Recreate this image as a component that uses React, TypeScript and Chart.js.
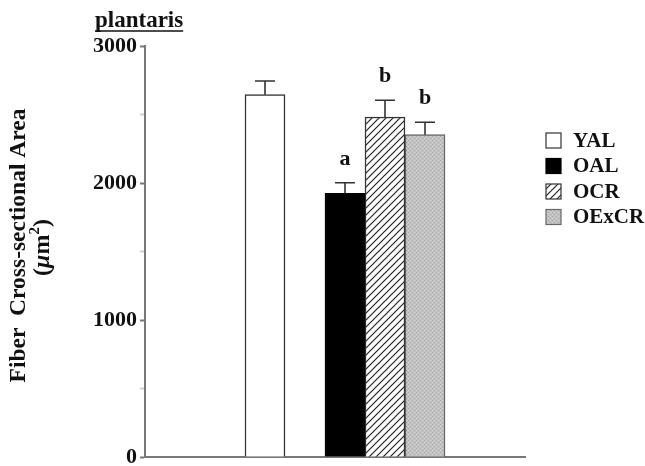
import { useEffect, useRef } from 'react';
import { Chart, registerables } from 'chart.js';
Chart.register(...registerables);

const categories = ['YAL', 'OAL', 'OCR', 'OExCR'];
const positions = [3, 5, 6, 7];
const means = [2645, 1925, 2482, 2353];
const errors = [100, 77, 122, 90];
const letters = ['', 'a', 'b', 'b'];
const yMax = 3000;
const xMax = 9.5;

const SERIF = '"Liberation Serif", "Times New Roman", serif';

function hatch(): CanvasPattern {
  const s = 7;
  const c = document.createElement('canvas');
  c.width = s; c.height = s;
  const g = c.getContext('2d')!;
  g.fillStyle = '#fff';
  g.fillRect(0, 0, s, s);
  g.strokeStyle = '#222';
  g.lineWidth = 1.2;
  g.beginPath();
  g.moveTo(0, s); g.lineTo(s, 0);
  g.moveTo(-1, 1); g.lineTo(1, -1);
  g.moveTo(s - 1, s + 1); g.lineTo(s + 1, s - 1);
  g.stroke();
  return g.createPattern(c, 'repeat')!;
}

function stipple(): CanvasPattern {
  const c = document.createElement('canvas');
  c.width = 4; c.height = 4;
  const g = c.getContext('2d')!;
  g.fillStyle = '#c2c2c2';
  g.fillRect(0, 0, 4, 4);
  g.fillStyle = '#a4a4a4';
  g.fillRect(0, 0, 1, 1);
  g.fillRect(2, 2, 1, 1);
  g.fillStyle = '#d4d4d4';
  g.fillRect(2, 0, 1, 1);
  g.fillRect(0, 2, 1, 1);
  return g.createPattern(c, 'repeat')!;
}

const decorPlugin = {
  id: 'decor',
  afterDatasetsDraw(chart: any) {
    const ctx = chart.ctx;
    const y = chart.scales.y;
    ctx.save();
    chart.data.datasets.forEach((_ds: any, i: number) => {
      const el = chart.getDatasetMeta(i).data[0];
      if (!el) return;
      const x = el.x;
      const yTop = y.getPixelForValue(means[i]);
      const yErr = y.getPixelForValue(means[i] + errors[i]);
      ctx.strokeStyle = '#333';
      ctx.lineWidth = 1.6;
      ctx.beginPath();
      ctx.moveTo(x, yTop);
      ctx.lineTo(x, yErr);
      ctx.moveTo(x - 10, yErr);
      ctx.lineTo(x + 10, yErr);
      ctx.stroke();
      if (letters[i]) {
        ctx.fillStyle = '#111';
        ctx.font = `bold 22px ${SERIF}`;
        ctx.textAlign = 'center';
        ctx.textBaseline = 'alphabetic';
        ctx.fillText(letters[i], x, yErr - 18);
      }
    });
    ctx.restore();
  },
  afterDraw(chart: any) {
    const ctx = chart.ctx;
    const area = chart.chartArea;
    ctx.save();
    // title
    ctx.fillStyle = '#111';
    ctx.font = `bold 23px ${SERIF}`;
    ctx.textAlign = 'left';
    ctx.textBaseline = 'alphabetic';
    const title = 'plantaris';
    const tw = ctx.measureText(title).width;
    const tx = area.left - 50;
    ctx.fillText(title, tx, 27);
    ctx.strokeStyle = '#111';
    ctx.lineWidth = 1.5;
    ctx.beginPath();
    ctx.moveTo(tx, 31);
    ctx.lineTo(tx + tw, 31);
    ctx.stroke();

    // y axis title
    const cy = (area.top + area.bottom) / 2;
    ctx.save();
    ctx.translate(19, cy - 6);
    ctx.rotate(-Math.PI / 2);
    ctx.textAlign = 'center';
    ctx.textBaseline = 'middle';
    ctx.font = `bold 23.5px ${SERIF}`;
    ctx.fillText('Fiber  Cross-sectional Area', 0, 0);
    ctx.restore();

    ctx.save();
    ctx.translate(43, cy - 4);
    ctx.rotate(-Math.PI / 2);
    ctx.textBaseline = 'middle';
    const parts: [string, string, number][] = [
      ['(', `bold 24px ${SERIF}`, 0],
      ['\u03BC', `italic bold 24px ${SERIF}`, 0],
      ['m', `bold 24px ${SERIF}`, 0],
      ['2', `bold 15px ${SERIF}`, -8],
      [')', `bold 24px ${SERIF}`, 0],
    ];
    let total = 0;
    parts.forEach(([t, f]) => { ctx.font = f; total += ctx.measureText(t).width; });
    let px = -total / 2;
    ctx.textAlign = 'left';
    parts.forEach(([t, f, dy]) => {
      ctx.font = f;
      ctx.fillText(t, px, dy);
      px += ctx.measureText(t).width;
    });
    ctx.restore();

    // legend
    const lx = area.right + 21;
    const ly0 = area.top + 87;
    const step = 25.5;
    const bs = 15;
    chart.data.datasets.forEach((ds: any, i: number) => {
      const yy = ly0 + i * step;
      ctx.fillStyle = ds.backgroundColor;
      ctx.fillRect(lx, yy, bs, bs);
      ctx.strokeStyle = ds.borderColor;
      ctx.lineWidth = 1.2;
      ctx.strokeRect(lx, yy, bs, bs);
      ctx.fillStyle = '#111';
      ctx.font = `bold 21px ${SERIF}`;
      ctx.textAlign = 'left';
      ctx.textBaseline = 'middle';
      ctx.fillText(ds.label, lx + 27, yy + bs / 2 + 1);
    });
    ctx.restore();
  },
};

export default function App() {
  const ref = useRef<HTMLCanvasElement | null>(null);
  useEffect(() => {
    if (!ref.current) return;
    const fills = ['#ffffff', '#000000', hatch(), stipple()];
    const borders = ['#333333', '#000000', '#333333', '#666666'];
    const chart = new Chart(ref.current, {
      type: 'bar',
      data: {
        datasets: categories.map((c, i) => ({
          label: c,
          data: [{ x: positions[i], y: means[i] }],
          backgroundColor: fills[i] as any,
          borderColor: borders[i],
          borderWidth: 1.5,
          grouped: false,
          barPercentage: 1,
          categoryPercentage: 1,
        })),
      },
      options: {
        animation: false,
        responsive: true,
        maintainAspectRatio: false,
        layout: { padding: { left: 60, right: 120, top: 46, bottom: 9 } },
        plugins: { legend: { display: false }, tooltip: { enabled: false }, title: { display: false } },
        scales: {
          x: {
            type: 'linear',
            min: 0,
            max: xMax,
            offset: false,
            grid: { display: false },
            ticks: { display: false },
            border: { display: true, color: '#777', width: 2 },
            afterFit: (s: any) => { s.height = 0; s.paddingLeft = 0; s.paddingRight = 0; },
          },
          y: {
            min: 0,
            max: yMax,
            ticks: {
              stepSize: 500,
              padding: 3,
              color: '#111',
              font: { family: SERIF, size: 22, weight: 'bold' },
              callback: (v: any) => (Number(v) % 1000 === 0 ? String(v) : ''),
            },
            grid: {
              display: true,
              drawOnChartArea: false,
              drawTicks: true,
              tickLength: 5,
              tickColor: (c: any) => (c.tick && c.tick.value % 1000 !== 0 ? 'rgba(120,120,120,0.35)' : '#777'),
              tickWidth: 2,
            },
            border: { display: true, color: '#777', width: 2 },
            afterFit: (s: any) => { s.width = 85; s.paddingTop = 0; s.paddingBottom = 0; },
          },
        },
      },
      plugins: [decorPlugin],
    });
    return () => chart.destroy();
  }, []);
  return (
    <div style={{ position: 'fixed', left: 0, top: 0, width: '645px', height: '466px', background: '#fff' }}>
      <canvas ref={ref} />
    </div>
  );
}
